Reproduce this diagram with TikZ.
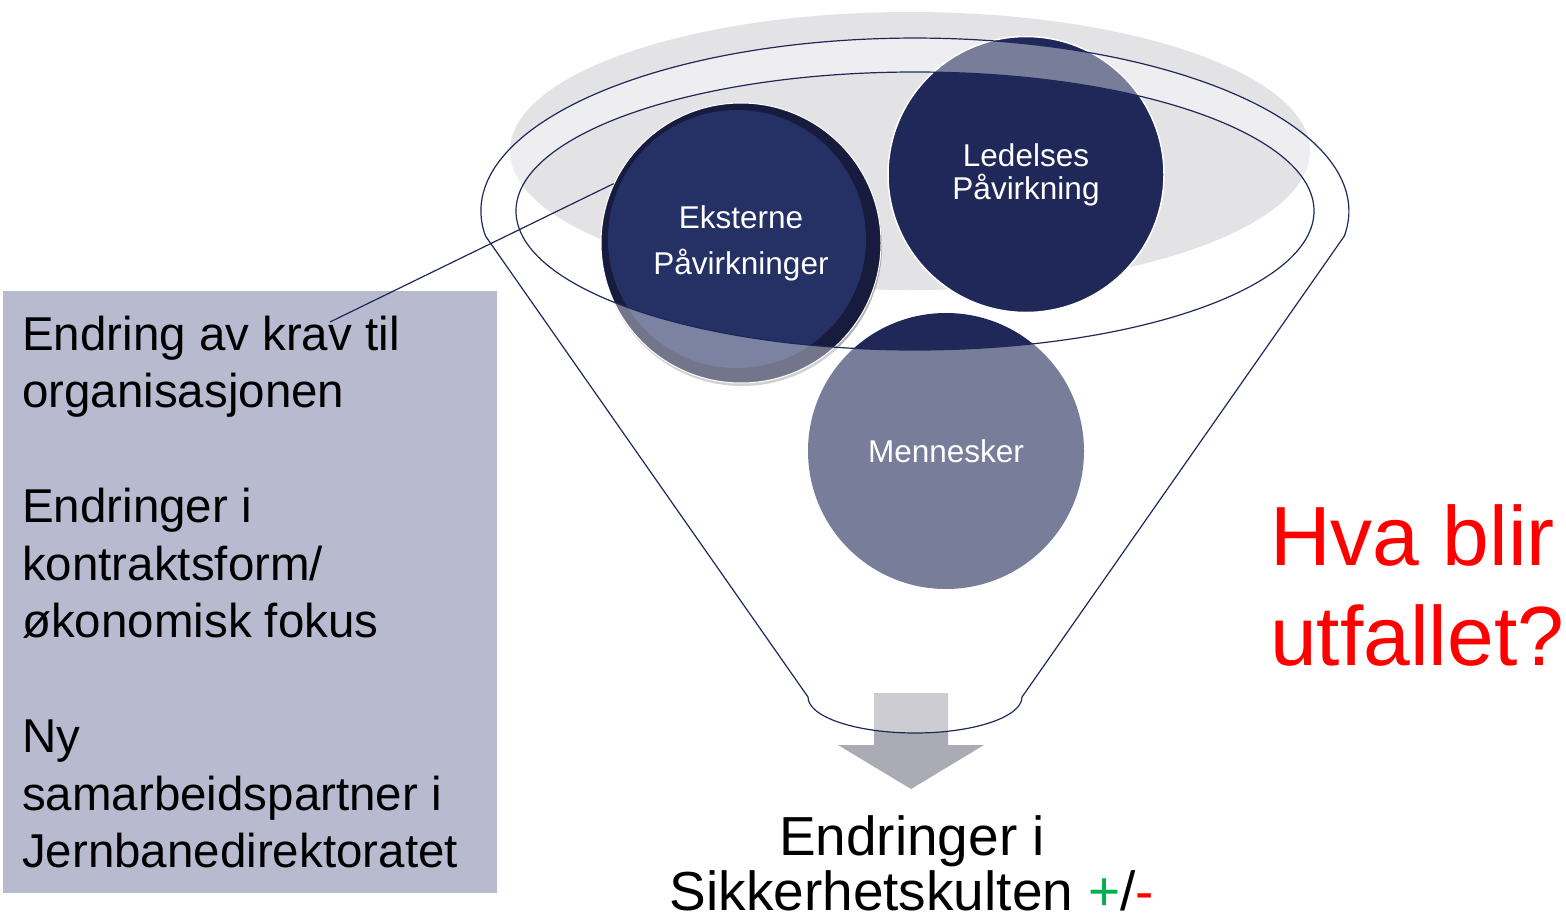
\documentclass[tikz,border=0pt]{standalone}
\usepackage{fontspec}
\setmainfont{Liberation Sans}
\usetikzlibrary{shadows}
\definecolor{navy}{HTML}{1F2858}
\definecolor{extfill}{HTML}{253064}
\definecolor{extring}{HTML}{171C3E}
\definecolor{boxgray}{HTML}{B8BACF}
\definecolor{backgray}{HTML}{E3E3E6}
\definecolor{arrowgray}{HTML}{AAABB5}
\definecolor{plusgreen}{HTML}{00B050}
\tikzset{
        % Circles in the funnel
        bubble/.style={circle, inner sep=0pt, minimum size=276pt, align=center, text=white, fill=navy},
        % Circle with a dark bevel ring
        bubble_ring/.style={bubble, minimum size=280pt, fill=extring, draw=white, line width=1pt,
            drop shadow={shadow xshift=1pt, shadow yshift=-3pt, fill=gray, opacity=0.6},
            path picture={\fill[extfill] ([xshift=-4pt,yshift=4pt]path picture bounding box.center) circle (129pt);}},
        % Funnel body and rims
        funnel/.style={draw=navy, line width=1.2pt, fill=white, fill opacity=0.4, even odd rule},
        % Grey text box
        infobox/.style={rectangle, fill=boxgray, inner sep=0pt, minimum width=494pt, minimum height=602pt},
        % Plain text
        label_text/.style={inner sep=0pt, align=left}
}

\begin{document}
\begin{tikzpicture}[x=1pt, y=-1pt]
    \useasboundingbox (0,0) rectangle (1566,913);
    % back of the funnel
    \fill[backgray] (910,151) ellipse [x radius=400, y radius=139];
    % circles
    \node[bubble_ring, font=\fontsize{31.5}{46}\selectfont] (ext) at (741,243) {Eksterne\\Påvirkninger};
    \node[bubble, draw=white, line width=1.5pt, font=\fontsize{31.5}{33}\selectfont] (led) at (1026,174.5) {Ledelses\\Påvirkning};
    \node[bubble, font=\fontsize{31.5}{33}\selectfont] (men) at (946,451) {Mennesker};
    % arrow out of the funnel
    \fill[arrowgray] (874,693) -- (948,693) -- (948,745) -- (984,745) -- (911,789) -- (838,745) -- (874,745) -- cycle;
    % funnel
    \path[funnel] (485.5,236) arc[start angle=171.7, end angle=368.3, x radius=434, y radius=173]
        -- (1022,697) arc[start angle=0, end angle=180, x radius=107, y radius=36] -- cycle
        (915,211) ellipse [x radius=399, y radius=139];
    % text box
    \node[infobox, anchor=north west] (box) at (3,291) {};
    \node[label_text, anchor=north west, font=\fontsize{47.5}{57.5}\selectfont] (boxtext) at (22,315.5)
        {Endring av krav til\\organisasjonen\\[57.5pt]Endringer i\\kontraktsform/\\økonomisk fokus\\[57.5pt]Ny\\samarbeidspartner i\\Jernbanedirektoratet};
    \coordinate (kravpt) at (330,322);
    \draw[navy, line width=1.2pt] (kravpt) -- (ext.155);
    % outcome
    \node[label_text, align=center, anchor=north, font=\fontsize{55}{55}\selectfont] (result) at (912,815)
        {Endringer i\\Sikkerhetskulten {\color{plusgreen}+}/{\color{red}-}};
    \node[label_text, anchor=north west, text=red, font=\fontsize{84}{100}\selectfont] (question) at (1270,504)
        {Hva blir\\utfallet?};
\end{tikzpicture}
\end{document}
